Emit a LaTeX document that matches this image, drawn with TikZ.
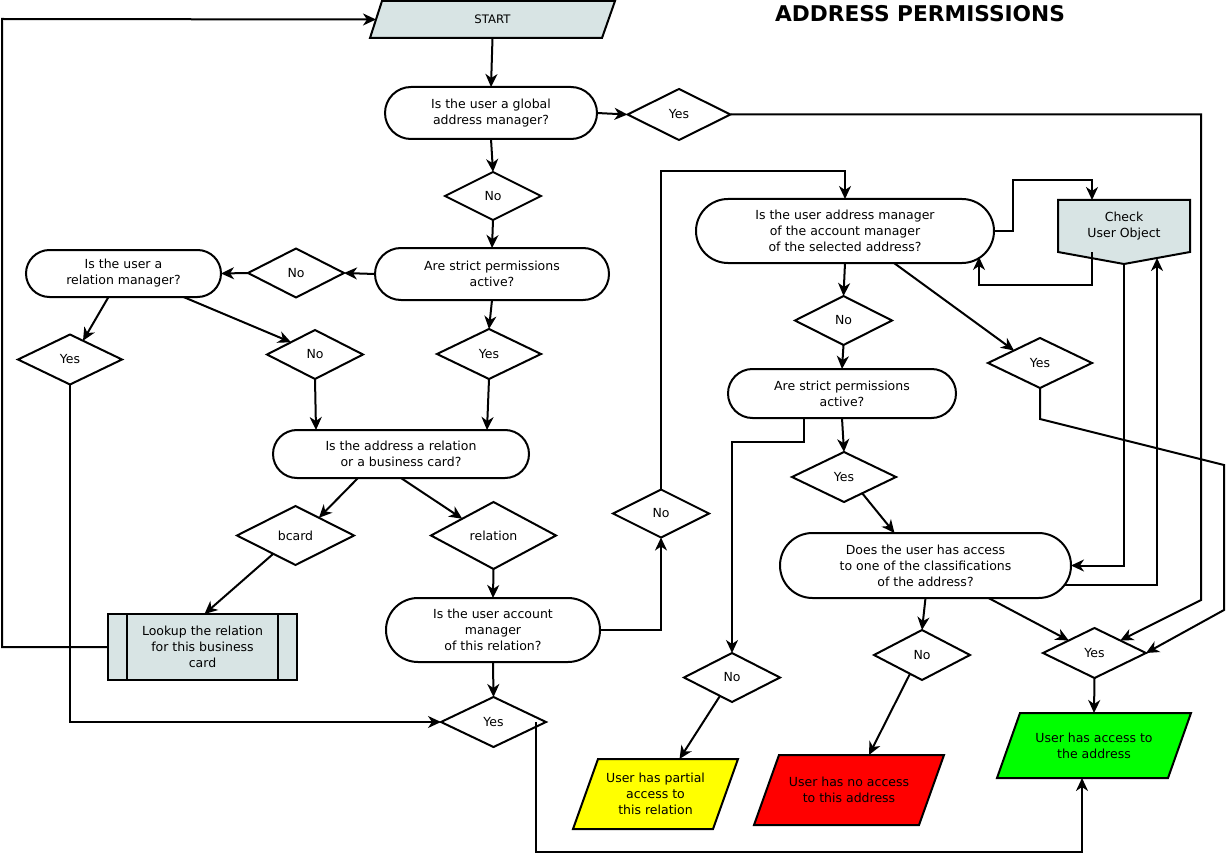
\documentclass[tikz,border=0pt]{standalone}
\usepackage{fontspec}
\setmainfont{DejaVu Sans}
\usetikzlibrary{shapes.geometric,arrows.meta,calc,backgrounds}
\definecolor{boxgray}{RGB}{216,228,228}
\definecolor{yel}{RGB}{255,255,0}
\definecolor{rd}{RGB}{255,0,0}
\definecolor{grn}{RGB}{0,255,0}
\newcommand\fsz{\fontsize{12.5}{16}\selectfont}
\begin{document}
\begin{tikzpicture}[x=1pt,y=-1pt,
  base/.style={font=\fsz, align=center, inner sep=0pt, outer sep=0pt, line width=2pt},
  term/.style={base, draw, rectangle},
  dia/.style={base, draw, diamond, aspect=2},
  para/.style={base, rectangle},
  arr/.style={line width=2pt, -{Stealth[length=13pt,width=12pt,inset=4pt]}},
  ln/.style={line width=2pt}]
\useasboundingbox (0,0) rectangle (1226,853);

% title
\node[font=\fontsize{21.7}{26}\selectfont\bfseries] (title) at (920,14) {ADDRESS PERMISSIONS};

% parallelogram / box nodes (shapes drawn on background)
\node[para, minimum width=245, minimum height=37, font=\fontsize{11.7}{15}\selectfont] (start) at (492.5,19.5) {START};
\node[para, minimum width=165, minimum height=70] (partial) at (655.5,794) {User has partial\\access to\\this relation};
\node[para, minimum width=190, minimum height=70] (noacc) at (849,790) {User has no access\\to this address};
\node[para, minimum width=194, minimum height=65] (acc) at (1094,745.5) {User has access to\\the address};
\node[para, draw, fill=boxgray, minimum width=189, minimum height=66] (lookup) at (202.5,647) {Lookup the relation\\for this business\\card};
\node[para, minimum width=132, minimum height=52] (check) at (1124,226) {Check\\User Object};

% terminals
\node[term, minimum width=212, minimum height=52, rounded corners=26pt] (global) at (491,113) {Is the user a global\\ address manager?};
\node[term, minimum width=234, minimum height=52, rounded corners=26pt] (strict1) at (492,274) {Are strict permissions\\active?};
\node[term, minimum width=195, minimum height=47, rounded corners=23.5pt] (relmgr) at (123.5,273.5) {Is the user a\\relation manager?};
\node[term, minimum width=256, minimum height=48, rounded corners=24pt] (addrtype) at (401,454) {Is the address a relation\\or a business card?};
\node[term, minimum width=214, minimum height=64, rounded corners=32pt] (acct) at (493,630) {Is the user account\\manager\\of this relation?};
\node[term, minimum width=298, minimum height=64, rounded corners=32pt] (addrmgr) at (845,231) {Is the user address manager\\of the account manager\\of the selected address?};
\node[term, minimum width=228, minimum height=49, rounded corners=24.5pt] (strict2) at (842,393.5) {Are strict permissions\\active?};
\node[term, minimum width=291, minimum height=65, rounded corners=32.5pt] (classif) at (925.5,565.5) {Does the user has access\\to one of the classifications\\of the address?};

% diamonds
\node[dia, minimum width=96, minimum height=48] (dno1) at (493,196) {No};
\node[dia, minimum width=103, minimum height=51] (dyes1) at (679,114.5) {Yes};
\node[dia, minimum width=96, minimum height=49] (dno2) at (296,273) {No};
\node[dia, minimum width=104, minimum height=50] (dyes2) at (70,359.5) {Yes};
\node[dia, minimum width=96, minimum height=49] (dno3) at (315,354.5) {No};
\node[dia, minimum width=104, minimum height=50] (dyes3) at (489,354) {Yes};
\node[dia, minimum width=117, minimum height=59] (dbcard) at (295.5,535.5) {bcard};
\node[dia, minimum width=125, minimum height=67] (drel) at (493.5,535.5) {relation};
\node[dia, minimum width=105, minimum height=50] (dyes4) at (493.5,722) {Yes};
\node[dia, minimum width=96, minimum height=48] (dno4) at (661,513.5) {No};
\node[dia, minimum width=97, minimum height=49] (dno5) at (843.5,320.5) {No};
\node[dia, minimum width=104, minimum height=50] (dyes5) at (1040,363) {Yes};
\node[dia, minimum width=104, minimum height=50] (dyes6) at (844,477) {Yes};
\node[dia, minimum width=96, minimum height=50] (dno6) at (922,655) {No};
\node[dia, minimum width=96, minimum height=49] (dno7) at (732,677.5) {No};
\node[dia, minimum width=103, minimum height=50] (dyes7) at (1094.5,653) {Yes};

\begin{scope}[on background layer]
  \fill[white] (0,0) rectangle (1226,853);
  \draw[ln, fill=boxgray] ($(start.north west)+(12,0)$) -- (start.north east) -- ($(start.south east)+(-13,0)$) -- (start.south west) -- cycle;
  \draw[ln, fill=yel] ($(partial.north west)+(25,0)$) -- (partial.north east) -- ($(partial.south east)+(-25,0)$) -- (partial.south west) -- cycle;
  \draw[ln, fill=rd] ($(noacc.north west)+(25,0)$) -- (noacc.north east) -- ($(noacc.south east)+(-25,0)$) -- (noacc.south west) -- cycle;
  \draw[ln, fill=grn] ($(acc.north west)+(23,0)$) -- (acc.north east) -- ($(acc.south east)+(-23,0)$) -- (acc.south west) -- cycle;
  \draw[ln, fill=boxgray] (check.north west) -- (check.north east) -- (check.south east) -- ($(check.south)+(0,12)$) -- (check.south west) -- cycle;
\end{scope}
\draw[ln] ($(lookup.north west)+(19,0)$) -- ($(lookup.south west)+(19,0)$);
\draw[ln] ($(lookup.north east)+(-19,0)$) -- ($(lookup.south east)+(-19,0)$);

% coordinates for free bends
\coordinate (cl) at (2,19);
\coordinate (cr1) at (1201,600);
\coordinate (ct) at (845,171);
\coordinate (cr2a) at (1224,465);
\coordinate (cr2b) at (1224,610);

% connectors
\draw[arr] (start.south) -- (global.north);
\draw[arr] (global.east) -- (dyes1.west);
\draw[arr] (dyes1.east) -| (cr1) -- (dyes7.north east);
\draw[arr] (global.south) -- (dno1.north);
\draw[arr] (dno1.south) -- (strict1.north);
\draw[arr] (strict1.west) -- (dno2.east);
\draw[arr] (dno2.west) -- (relmgr.east);
\draw[arr] ($(relmgr.south)+(-15,0)$) -- ($(dyes2.north)!0.25!(dyes2.east)$);
\draw[arr] ($(relmgr.south)+(60,0)$) -- (dno3.north west);
\draw[arr] (strict1.south) -- (dyes3.north);
\draw[arr] (dno3.south) -- ($(addrtype.north)+(-85,0)$);
\draw[arr] (dyes3.south) -- ($(addrtype.north)+(86,0)$);
\draw[arr] ($(addrtype.south)+(-43,0)$) -- ($(dbcard.north)!0.4!(dbcard.east)$);
\draw[arr] (addrtype.south) -- (drel.north west);
\draw[arr] ($(dbcard.south)!0.38!(dbcard.west)$) -- ($(lookup.north)+(2,0)$);
\draw[arr] (lookup.west) -| (cl) -- ($(start.west)+(6,0)$);
\draw[arr] (dyes2.south) |- (dyes4.west);
\draw[arr] (drel.south) -- (acct.north);
\draw[arr] (acct.south) -- (dyes4.north);
\draw[arr] (acct.east) -| (dno4.south);
\draw[arr] (dno4.north) |- (ct) -- (addrmgr.north);
\draw[arr] ($(dyes4.east)+(-10,0)$) -- ++(0,130) -| ($(acc.south)+(-12,0)$);
\draw[arr] (addrmgr.east) -- ++(19,0) |- ($(check.north)+(-32,-20)$) -- ($(check.north)+(-32,0)$);
\draw[arr] ($(check.south)+(-32,0)$) -- ++(0,33) -| ($(addrmgr.south east)+(-15,-6)$);
\draw[arr] ($(check.south)+(0,12)$) |- (classif.east);
\draw[arr] ($(classif.east)+(-7,19.5)$) -| ($(check.south)+(33,6)$);
\draw[arr] (addrmgr.south) -- (dno5.north);
\draw[arr] ($(addrmgr.south)+(49,0)$) -- (dyes5.north west);
\draw[arr] (dno5.south) -- (strict2.north);
\draw[arr] (dyes5.south) -- ++(0,31) -- (cr2a) -- (cr2b) -- (dyes7.east);
\draw[arr] ($(strict2.south)+(-38,0)$) -- ++(0,24) -| (dno7.north);
\draw[arr] (strict2.south) -- (dyes6.north);
\draw[arr] ($(dyes6.south)!0.35!(dyes6.east)$) -- ($(classif.north)+(-31,0)$);
\draw[arr] (classif.south) -- (dno6.north);
\draw[arr] ($(classif.south)+(63,0)$) -- (dyes7.north west);
\draw[arr] (dyes7.south) -- (acc.north);
\draw[arr] ($(dno6.south)!0.25!(dno6.west)$) -- ($(noacc.north)+(20,0)$);
\draw[arr] ($(dno7.south)!0.25!(dno7.west)$) -- ($(partial.north)+(24,0)$);
\end{tikzpicture}
\end{document}
